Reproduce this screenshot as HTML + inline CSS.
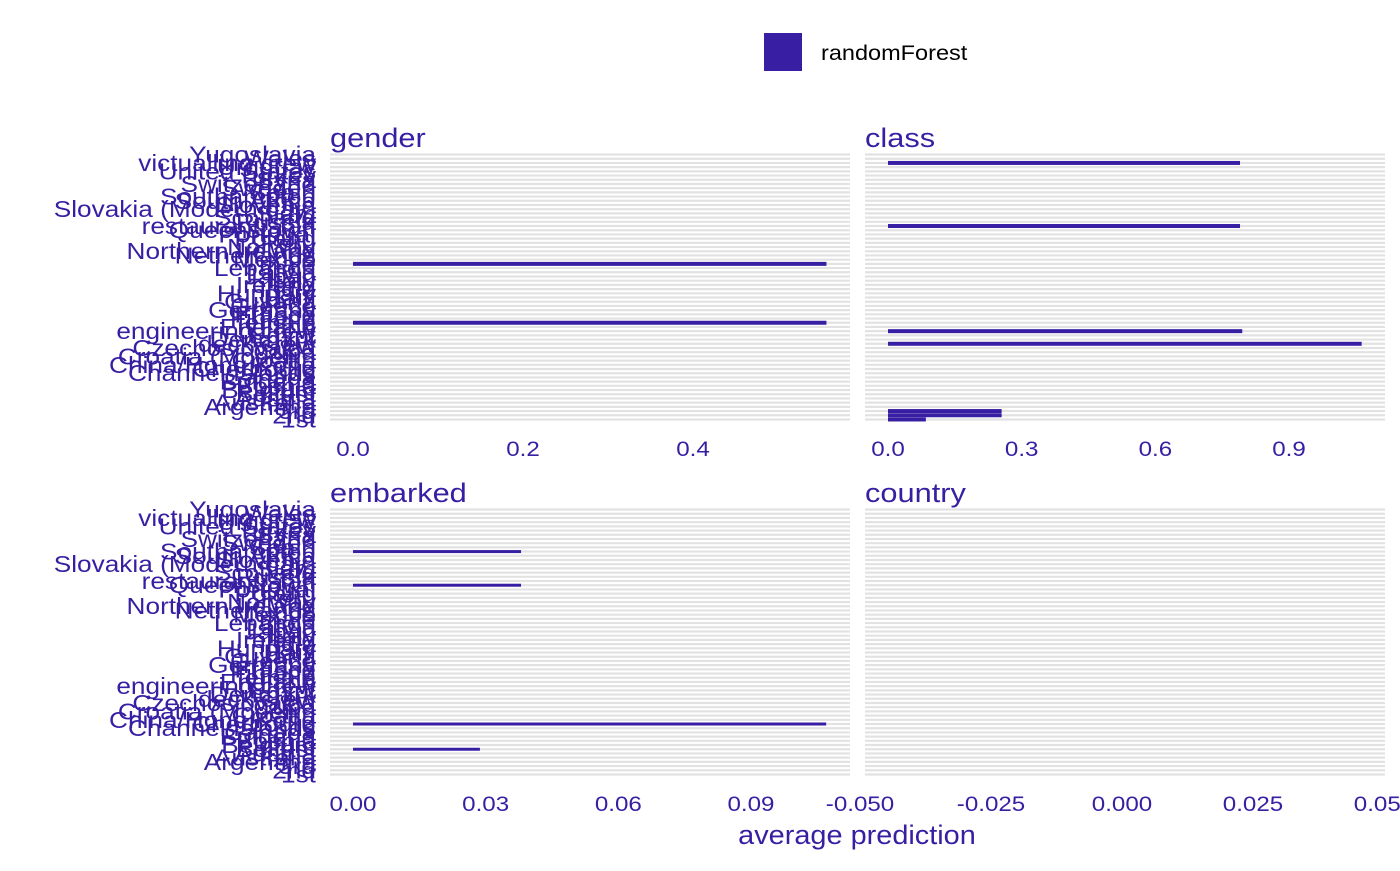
<!DOCTYPE html>
<html><head><meta charset="utf-8"><style>
body{margin:0;background:#fff;}
svg text{font-family:"Liberation Sans",sans-serif;}
</style></head><body>
<svg id="c" width="1400" height="866" xmlns="http://www.w3.org/2000/svg">
<rect x="764" y="33" width="38" height="38" fill="#371ea3"/>
<text x="821" y="60" font-size="21" fill="#000" transform="translate(821,0) scale(1.12,1) translate(-821,0)">randomForest</text>
<text x="857" y="844" font-size="27" fill="#371ea3" text-anchor="middle" transform="translate(857,0) scale(1.07,1) translate(-857,0)">average prediction</text>
</svg>
<script>
const categories=["1st","2nd","3rd","Argentina","Australia","Austria","Belfast","Belgium","Bosnia","Bulgaria","Canada","Channel Islands","Cherbourg","China/Hong Kong","Croatia","Croatia (Modern)","Cuba","Czechoslovakia","deck crew","Denmark","Egypt","engineering crew","England","female","Finland","France","Germany","Greece","Guyana","Haiti","Hungary","India","Ireland","Italy","Japan","Latvia","Lebanon","male","Mexico","Netherlands","Northern Ireland","Norway","Peru","Poland","Portugal","Queenstown","restaurant staff","Russia","Scotland","Siam","Slovakia (Modern day)","Slovenia","South Africa","Southampton","Spain","Sweden","Switzerland","Syria","Turkey","United States","Uruguay","victualling crew","Wales","Yugoslavia"];
const genderCats=["male","female"];
const genderVals=[0.557,0.557];
const classCats=["victualling crew","restaurant staff","engineering crew","deck crew","3rd","2nd","1st"];
const classVals=[0.79,0.79,0.795,1.063,0.255,0.255,0.085];
const embarkedCats=["Southampton","Queenstown","Cherbourg","Belfast"];
const embarkedVals=[0.038,0.038,0.107,0.0287];
const genderTicks=[0,0.2,0.4];
const classTicks=[0,0.3,0.6,0.9];
const embarkedTicks=[0,0.03,0.06,0.09];
const countryTicks=[-0.05,-0.025,0,0.025,0.05];
const genderLabels=["0.0","0.2","0.4"];
const classLabels=["0.0","0.3","0.6","0.9"];
const embarkedLabels=["0.00","0.03","0.06","0.09"];
const countryLabels=["-0.050","-0.025","0.000","0.025","0.050"];

const svg=document.getElementById('c');
const NS="http://www.w3.org/2000/svg";
const C="#371ea3";
function mk(t,a){const e=document.createElementNS(NS,t);for(const k in a)e.setAttribute(k,a[k]);svg.appendChild(e);return e;}
function sx(x0,s){return `translate(${x0},0) scale(${s},1) translate(${-x0},0)`;}
const n=categories.length;
function yScale(top,bottom){const step=(bottom-top)/(n-1+1.2);return c=>bottom-step*(0.6+categories.indexOf(c));}

const panels=[
 {name:"gender",x0:330,x1:850,top:152,bottom:422,zero:353,k:850,cats:genderCats,vals:genderVals,ticks:genderTicks,labels:genderLabels,bw:4},
 {name:"class",x0:865,x1:1385,top:152,bottom:422,zero:888,k:445.6,cats:classCats,vals:classVals,ticks:classTicks,labels:classLabels,bw:4},
 {name:"embarked",x0:330,x1:850,top:507,bottom:777,zero:353,k:4422,cats:embarkedCats,vals:embarkedVals,ticks:embarkedTicks,labels:embarkedLabels,bw:3},
 {name:"country",x0:865,x1:1385,top:507,bottom:777,zero:1122,k:5240,cats:[],vals:[],ticks:countryTicks,labels:countryLabels,bw:3}
];
panels.forEach(p=>{
 const y=yScale(p.top,p.bottom);
 const x=v=>p.zero+v*p.k;
 categories.forEach(c=>{
  const g=mk('line',{x1:p.x0,x2:p.x1,y1:y(c),y2:y(c),stroke:"#e2e2e2","stroke-width":2.2});
  
  
 });
 if(p.x0<400){
  categories.forEach(c=>{
   const t=mk('text',{x:316,y:y(c)+8,"font-size":23,fill:C,"text-anchor":"end",transform:sx(316,1.14)});
   t.textContent=c;
   
   
  });
 }
 p.cats.forEach((c,i)=>{
  const b=mk('rect',{x:x(0),y:y(c)-p.bw/2,width:x(p.vals[i])-x(0),height:p.bw,fill:C});
  
  
 });
 p.ticks.forEach((v,i)=>{
  const t=mk('text',{x:x(v),y:p.bottom+34,"font-size":21,fill:C,"text-anchor":"middle",transform:sx(x(v),1.15)});
  t.textContent=p.labels[i];
  
  
 });
 const tt=mk('text',{x:p.x0,y:p.top-5,"font-size":27,fill:C,transform:sx(p.x0,1.14)});
 tt.textContent=p.name;
 
 
});
</script>
</body></html>
